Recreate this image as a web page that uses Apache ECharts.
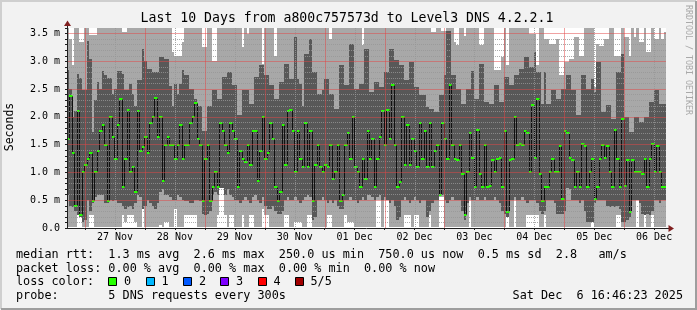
<!DOCTYPE html>
<html><head><meta charset="utf-8">
<script src="https://cdn.jsdelivr.net/npm/echarts@6/dist/echarts.min.js"></script>
<style>html,body{margin:0;padding:0;background:#f2f2f2}#c{width:697px;height:310px}</style>
</head><body><div id="c"></div>
<script>
// ---- time axis (hours relative to 27 Nov 00:00) ----
const START_HOUR = -7.233;   // 26 Nov 16:46
const END_HOUR = 232.767;    // 06 Dec 16:46
const STEP_HOURS = 1;
const dayLabelHours = [12, 36, 60, 84, 108, 132, 156, 180, 204, 228];
const dayLabels = ['27 Nov', '28 Nov', '29 Nov', '30 Nov', '01 Dec', '02 Dec', '03 Dec', '04 Dec', '05 Dec', '06 Dec'];
const midnightHours = [0, 24, 48, 72, 96, 120, 144, 168, 192, 216];
const noonHours = [12, 36, 60, 84, 108, 132, 156, 180, 204, 228];

// ---- rtt values in ms, one per hour (5 pings sorted: min, 2nd, median, 4th, max) ----
const minRtt = [
0.01,0.01,0.01,0.01,0.23,0.20,0.01,0.01,0.01,0.23,
0.23,0.01,0.01,0.01,0.01,0.01,0.01,0.01,0.01,0.01,
0.01,0.01,0.23,0.10,0.23,0.23,0.23,0.10,0.01,0.01,
0.35,0.01,0.01,0.01,0.01,0.01,0.01,0.05,0.01,0.10,
0.10,0.01,0.01,0.35,0.01,0.01,0.01,0.23,0.23,0.23,
0.23,0.23,0.01,0.01,0.01,0.01,0.01,0.01,0.01,0.01,
0.23,0.72,0.72,0.23,0.01,0.23,0.23,0.01,0.01,0.01,
0.23,0.01,0.01,0.23,0.23,0.01,0.01,0.01,0.35,0.23,
0.23,0.01,0.01,0.01,0.01,0.01,0.01,0.23,0.23,0.01,
0.01,0.10,0.10,0.10,0.01,0.01,0.23,0.23,0.01,0.01,
0.01,0.01,0.01,0.01,0.23,0.23,0.01,0.01,0.01,0.01,
0.01,0.23,0.10,0.10,0.10,0.01,0.01,0.01,0.01,0.01,
0.01,0.01,0.01,0.01,0.50,0.50,0.01,0.50,0.50,0.01,
0.01,0.01,0.01,0.01,0.01,0.23,0.23,0.23,0.01,0.23,
0.23,0.01,0.01,0.01,0.01,0.23,0.01,0.01,0.01,0.55,
0.55,0.01,0.01,0.01,0.01,0.01,0.01,0.01,0.01,0.01,
0.01,0.50,0.01,0.01,0.01,0.01,0.01,0.01,0.01,0.01,
0.01,0.01,0.01,0.01,0.01,0.01,0.20,0.01,0.01,0.50,
0.01,0.01,0.01,0.01,0.23,0.23,0.23,0.23,0.23,0.01,
0.01,0.23,0.01,0.01,0.01,0.01,0.01,0.01,0.01,0.01,
0.01,0.01,0.01,0.01,0.01,0.01,0.01,0.01,0.01,0.01,
0.10,0.01,0.01,0.01,0.01,0.01,0.01,0.01,0.01,0.01,
0.23,0.23,0.01,0.01,0.01,0.01,0.01,0.01,0.50,0.01,
0.01,0.23,0.01,0.01,0.23,0.01,0.01,0.01,0.01,0.01];
const lowRtt = [
0.59,0.40,0.38,0.30,0.23,0.20,0.10,0.15,0.50,0.30,
0.45,0.55,0.59,0.60,0.60,0.45,0.45,0.50,0.48,0.50,
0.45,0.45,0.40,0.35,0.38,0.40,0.35,0.45,0.59,0.55,
0.35,0.40,0.50,0.45,0.40,0.35,0.45,0.65,0.70,0.60,
0.60,0.55,0.50,0.50,0.60,0.55,0.50,0.48,0.48,0.45,
0.45,0.50,0.50,0.48,0.25,0.23,0.25,0.30,0.60,0.65,
0.60,0.72,0.72,0.60,0.70,0.60,0.55,0.50,0.50,0.45,
0.50,0.55,0.50,0.45,0.55,0.60,0.50,0.45,0.55,0.40,
0.35,0.35,0.40,0.30,0.25,0.25,0.30,0.50,0.55,0.50,
0.50,0.55,0.50,0.45,0.50,0.55,0.60,0.55,0.15,0.20,
0.50,0.50,0.55,0.50,0.45,0.50,0.45,0.50,0.40,0.35,
0.35,0.50,0.50,0.55,0.50,0.50,0.45,0.50,0.55,0.50,
0.60,0.60,0.55,0.50,0.55,0.60,0.50,0.55,0.50,0.45,
0.50,0.40,0.15,0.20,0.50,0.55,0.50,0.45,0.50,0.55,
0.50,0.45,0.50,0.50,0.20,0.30,0.45,0.50,0.50,0.58,
0.60,0.50,0.45,0.50,0.55,0.50,0.50,0.50,0.30,0.15,
0.45,0.55,0.50,0.50,0.55,0.50,0.50,0.55,0.50,0.50,
0.50,0.55,0.50,0.45,0.30,0.25,0.20,0.50,0.50,0.55,
0.50,0.50,0.55,0.50,0.45,0.50,0.50,0.50,0.45,0.30,
0.25,0.30,0.50,0.50,0.50,0.45,0.25,0.25,0.25,0.30,
0.72,0.70,0.50,0.50,0.50,0.45,0.50,0.30,0.10,0.10,
0.10,0.45,0.50,0.50,0.50,0.50,0.40,0.38,0.40,0.38,
0.40,0.35,0.10,0.10,0.15,0.20,0.50,0.50,0.50,0.45,
0.25,0.23,0.25,0.23,0.30,0.50,0.50,0.45,0.50,0.50];
const medianRtt = [
1.61,2.37,1.35,0.39,2.10,0.24,1.00,1.14,1.25,1.35,
0.49,1.00,1.39,1.74,1.85,1.50,0.49,2.00,1.64,1.25,
1.85,2.33,0.74,1.25,2.13,1.00,1.10,0.64,2.10,1.39,
1.45,1.64,1.35,1.89,2.00,2.34,1.64,2.00,0.85,1.50,
1.64,1.50,1.50,1.25,1.50,1.85,1.25,1.50,1.50,1.89,
2.00,2.25,1.61,1.50,0.49,1.25,1.50,0.49,0.74,1.00,
0.74,1.89,1.74,1.50,1.35,1.89,1.74,1.61,0.74,1.39,
1.25,1.19,1.50,1.14,1.74,1.74,0.85,1.39,2.00,1.25,
1.35,1.89,1.61,0.74,0.49,0.64,1.85,1.14,2.10,2.13,
1.74,1.00,1.74,1.25,1.10,1.89,1.10,1.74,0.49,1.14,
1.50,1.10,1.00,1.14,1.10,1.50,0.89,1.00,1.50,0.49,
0.60,1.50,1.71,1.25,2.00,1.10,1.00,0.74,1.25,0.89,
1.74,1.25,1.61,0.74,1.25,1.64,2.10,1.50,2.13,1.61,
2.58,1.50,0.74,0.83,2.00,1.14,1.85,1.14,1.61,1.39,
1.10,1.89,1.25,1.74,1.10,1.89,1.10,1.39,1.50,0.60,
1.89,1.61,1.25,2.58,1.50,1.25,1.22,1.50,0.97,0.24,
1.00,1.71,1.26,0.73,1.77,0.97,0.74,1.50,0.74,0.76,
1.22,1.00,1.25,1.26,0.73,1.74,0.28,1.22,1.25,2.00,
1.50,1.52,1.50,1.74,1.71,1.00,2.22,1.26,2.32,0.97,
0.49,0.74,0.74,1.00,1.25,1.00,1.00,1.47,0.53,1.75,
1.71,1.26,1.22,0.74,1.00,0.74,1.52,1.47,0.74,1.00,
1.25,0.53,0.73,1.25,1.50,1.26,1.47,1.00,0.74,1.76,
1.25,0.74,1.97,0.76,1.22,0.28,1.22,1.00,1.00,1.00,
0.97,1.25,0.74,1.25,1.51,1.00,1.47,1.00,0.74,0.74];
const highRtt = [
2.84,2.50,2.00,2.10,2.78,2.70,2.48,2.48,3.36,3.05,
1.73,2.30,2.63,2.50,2.82,2.75,2.70,2.70,2.42,2.50,
2.82,2.82,2.78,2.48,2.48,2.60,2.42,2.20,2.66,2.66,
3.23,3.00,2.86,2.86,2.80,2.80,2.80,3.08,3.08,3.05,
3.05,2.56,2.20,2.60,2.42,2.60,2.84,2.75,2.75,2.50,
2.50,2.33,2.20,2.20,1.75,1.75,2.20,2.20,2.48,2.48,
2.33,2.33,2.72,2.72,2.80,2.80,2.57,2.57,2.03,2.03,
2.48,2.48,2.48,2.24,2.24,2.72,2.72,2.93,2.93,2.75,
2.75,2.57,2.57,2.33,2.33,2.63,2.63,2.96,2.96,2.69,
2.69,3.43,2.69,2.60,2.20,3.13,3.13,3.40,2.80,2.80,
2.42,2.42,2.48,2.69,2.69,2.42,2.42,2.15,2.15,2.93,
2.93,2.57,2.57,3.32,3.32,2.50,2.50,2.60,2.60,3.23,
3.23,2.45,2.45,2.63,2.63,2.54,2.54,2.80,2.80,3.23,
3.23,3.02,3.02,2.93,2.93,2.66,2.66,2.99,2.99,2.54,
2.54,2.39,2.39,2.39,2.18,2.15,2.15,2.09,2.09,2.39,
2.39,2.75,3.55,3.55,2.75,2.75,2.51,2.51,2.24,2.24,
2.51,2.51,2.82,2.33,2.33,2.96,2.96,2.27,2.27,2.24,
2.24,2.57,2.57,2.27,2.27,2.72,2.72,2.57,2.57,2.75,
2.75,2.87,2.87,3.08,3.08,2.90,2.90,3.17,2.80,2.80,
2.24,2.80,2.24,2.24,2.48,2.48,2.33,2.33,2.51,2.51,
2.75,2.75,2.48,2.48,2.03,2.03,2.75,2.75,2.51,2.51,
2.69,2.45,2.99,2.99,2.09,2.09,2.21,2.21,1.97,1.97,
2.80,2.80,3.14,2.00,2.00,1.73,1.73,2.00,2.00,1.91,
1.91,2.00,2.00,2.27,2.27,2.48,2.48,2.24,2.24,2.24];
const maxRtt = [
3.80,3.40,2.93,3.80,3.80,3.35,3.35,3.80,3.80,3.47,
3.47,3.47,3.80,3.80,3.80,3.80,3.80,3.80,3.80,3.80,
3.80,3.80,3.52,3.52,3.80,3.80,3.80,3.80,3.80,3.80,
3.80,3.80,3.80,3.80,3.80,3.80,3.80,3.80,3.80,3.80,
3.80,3.80,3.17,3.10,3.10,3.10,3.35,3.80,3.80,3.80,
3.80,3.80,3.80,3.80,3.25,3.25,3.80,3.80,3.00,3.00,
3.80,3.80,3.80,3.80,3.80,3.80,3.80,3.80,3.80,3.80,
3.25,3.80,3.50,3.80,3.80,3.80,3.80,3.80,2.95,3.80,
3.80,3.80,3.80,3.10,3.80,3.80,3.80,3.80,3.80,3.80,
3.80,3.80,3.80,3.80,3.80,3.80,3.80,3.80,3.80,3.80,
3.80,3.80,3.80,3.80,3.80,3.40,3.80,3.80,3.80,3.80,
3.80,3.80,3.80,3.80,3.80,3.80,3.80,3.80,3.30,3.80,
3.80,3.80,3.80,3.80,3.80,3.80,3.80,3.80,3.80,3.80,
3.80,3.80,3.80,3.80,3.80,3.80,3.80,3.80,3.80,3.80,
3.80,3.80,3.80,3.80,3.80,3.80,3.52,3.52,3.80,3.80,
3.55,3.55,3.80,3.80,3.80,3.35,3.30,3.80,3.80,3.45,
3.80,3.80,3.80,3.80,3.80,3.30,3.30,3.80,3.80,3.80,
3.80,2.84,2.84,2.84,3.08,3.80,2.93,3.80,3.80,3.80,
3.80,3.80,3.80,3.80,3.80,3.50,3.50,3.50,2.93,3.80,
3.80,3.40,3.40,3.32,3.32,3.32,3.40,2.75,2.75,2.99,
2.99,3.05,3.05,3.43,3.43,3.10,3.10,3.80,3.80,3.80,
3.80,2.54,3.32,3.28,3.28,3.40,3.40,3.80,3.80,3.10,
3.10,3.10,3.80,3.44,3.44,3.10,3.80,3.43,3.80,3.35,
3.35,3.80,3.17,3.17,3.80,3.40,3.40,3.80,3.41,3.52];

const yTickValues = [0, 0.5, 1, 1.5, 2, 2.5, 3, 3.5];
const Y_MAX = 3.6;

// ---- texts ----
const titleText = 'Last 10 Days from a800c757573d to Level3 DNS 4.2.2.1';
const yAxisName = 'Seconds';
const watermark = 'RRDTOOL / TOBI OETIKER';
const legendLines = [
  'median rtt:  1.3 ms avg  2.6 ms max  250.0 us min  750.0 us now  0.5 ms sd  2.8   am/s',
  'packet loss: 0.00 % avg  0.00 % max  0.00 % min  0.00 % now',
  'loss color:',
  'probe:       5 DNS requests every 300s'
];
const dateText = 'Sat Dec  6 16:46:23 2025';
const lossLabels = ['0', '1', '2', '3', '4', '5/5'];
const lossColors = ['#26ff00', '#00b8ff', '#0059ff', '#7e00ff', '#ff0000', '#a10000'];

// ---- styling ----
const MONO = '"DejaVu Sans Mono", monospace';
const LIGHT = '#a8a8a8';
const DARK = '#585858';
const MGRID = 'rgba(225,70,70,0.5)';
const GRID = 'rgba(150,150,150,0.8)';
const AXIS = '#1f1f1f';
const ARROW = '#801f1f';

const sampleHours = medianRtt.map((_, i) => START_HOUR + (i + 0.5) * STEP_HOURS);

const chart = echarts.init(document.getElementById('c'), null, { renderer: 'canvas', width: 697, height: 310 });

function colBounds(api, h) {
  const xl = Math.round(api.coord([h - STEP_HOURS / 2, 0])[0]);
  const xr = Math.round(api.coord([h + STEP_HOURS / 2, 0])[0]);
  return [xl, xr];
}

const graphics = [];
// frame
graphics.push({ type: 'polyline', silent: true, shape: { points: [[1, 309], [1, 1], [696, 1]] }, style: { stroke: '#cfcfcf', lineWidth: 2, fill: null } });
graphics.push({ type: 'polyline', silent: true, shape: { points: [[1, 309], [696, 309], [696, 1]] }, style: { stroke: '#9e9e9e', lineWidth: 2, fill: null } });
// axis extensions + arrows
graphics.push({ type: 'line', silent: true, z: 20, shape: { x1: 666, y1: 228.5, x2: 670, y2: 228.5 }, style: { stroke: AXIS, lineWidth: 1 } });
graphics.push({ type: 'polygon', silent: true, z: 20, shape: { points: [[668.5, 225], [674, 228.5], [668.5, 232]] }, style: { fill: ARROW } });
graphics.push({ type: 'line', silent: true, z: 20, shape: { x1: 67.5, y1: 28, x2: 67.5, y2: 24 }, style: { stroke: AXIS, lineWidth: 1 } });
graphics.push({ type: 'polygon', silent: true, z: 20, shape: { points: [[64, 26], [67.5, 20.5], [71, 26]] }, style: { fill: ARROW } });
// title
graphics.push({ type: 'text', silent: true, x: 347, y: 18.5, style: { text: titleText, font: '13.2px ' + MONO, fill: '#000', align: 'center', verticalAlign: 'middle', textAlign: 'center', textVerticalAlign: 'middle' } });
// y name
graphics.push({ type: 'text', silent: true, x: 10.5, y: 127, rotation: Math.PI / 2, style: { text: yAxisName, font: '11.5px ' + MONO, fill: '#000', align: 'center', verticalAlign: 'middle', textAlign: 'center', textVerticalAlign: 'middle' } });
// watermark
graphics.push({ type: 'text', silent: true, x: 688, y: 5, rotation: -Math.PI / 2, style: { text: watermark, font: '8.3px ' + MONO, fill: '#a9a9a9', align: 'left', verticalAlign: 'middle', textAlign: 'left', textVerticalAlign: 'middle' } });
// legend lines
const legendY = [254.5, 268.5, 282, 296];
legendLines.forEach((t, k) => {
  graphics.push({ type: 'text', silent: true, x: 16, y: legendY[k], style: { text: t, font: '11.8px ' + MONO, fill: '#000', align: 'left', verticalAlign: 'middle', textAlign: 'left', textVerticalAlign: 'middle' } });
});
graphics.push({ type: 'text', silent: true, x: 683, y: legendY[3], style: { text: dateText, font: '11.8px ' + MONO, fill: '#000', align: 'right', verticalAlign: 'middle', textAlign: 'right', textVerticalAlign: 'middle' } });
// loss colour boxes
const boxX = [108, 145.5, 183, 220, 257.5, 294.5];
lossLabels.forEach((lab, k) => {
  graphics.push({ type: 'rect', silent: true, shape: { x: Math.round(boxX[k]) + 0.5, y: 277.5, width: 8, height: 8 }, style: { fill: lossColors[k], stroke: '#000', lineWidth: 1 } });
  graphics.push({ type: 'text', silent: true, x: boxX[k] + 16, y: legendY[2], style: { text: lab, font: '11.8px ' + MONO, fill: '#000', align: 'left', verticalAlign: 'middle', textAlign: 'left', textVerticalAlign: 'middle' } });
});

const option = {
  animation: false,
  backgroundColor: '#f2f2f2',
  grid: { left: 67, right: 31, top: 28, bottom: 82, show: true, backgroundColor: '#ffffff', borderWidth: 0 },
  xAxis: {
    type: 'value', min: START_HOUR, max: END_HOUR, z: 6,
    axisLine: { show: true, onZero: false, lineStyle: { color: AXIS, width: 1 } },
    axisTick: { show: true, customValues: midnightHours.concat(noonHours).sort((a, b) => a - b), length: 2, lineStyle: { color: AXIS } },
    axisLabel: {
      customValues: dayLabelHours,
      formatter: v => dayLabels[dayLabelHours.indexOf(Math.round(v))] || '',
      fontFamily: MONO, fontSize: 10, color: '#000', margin: 4
    },
    splitLine: { show: false }
  },
  yAxis: {
    type: 'value', min: 0, max: Y_MAX, interval: 0.5, z: 6,
    axisLine: { show: true, onZero: false, lineStyle: { color: AXIS, width: 1 } },
    axisTick: { show: true, length: 2, lineStyle: { color: AXIS } },
    minorTick: { show: true, splitNumber: 5, length: 2, lineStyle: { color: AXIS } },
    axisLabel: {
      showMaxLabel: false,
      formatter: v => (yTickValues.indexOf(v) < 0 ? '' : (v === 0 ? '0.0' : v.toFixed(1) + ' m')),
      fontFamily: MONO, fontSize: 10, color: '#000', margin: 7
    },
    splitLine: { show: true, showMinLine: false, showMaxLine: false, lineStyle: { color: MGRID, type: 'solid', width: 1 } },
    minorSplitLine: { show: true, lineStyle: { color: GRID, type: [1, 1], width: 1 } }
  },
  graphic: graphics,
  series: [
    {
      name: 'smoke', type: 'custom', z: 2, clip: true, silent: true,
      data: sampleHours.map((h, i) => [h, minRtt[i], lowRtt[i], highRtt[i], maxRtt[i]]),
      encode: { x: 0, y: [1, 2, 3, 4] },
      renderItem: (params, api) => {
        const h = api.value(0);
        const [xl, xr] = colBounds(api, h);
        const yy = v => Math.round(api.coord([h, v])[1]);
        const y1 = yy(api.value(1)), y2 = yy(api.value(2)), y4 = yy(api.value(3)), y5 = yy(api.value(4));
        return {
          type: 'group', children: [
            { type: 'rect', shape: { x: xl, y: y2, width: xr - xl, height: y1 - y2 }, style: { fill: LIGHT } },
            { type: 'rect', shape: { x: xl, y: y4, width: xr - xl, height: y2 - y4 }, style: { fill: DARK } },
            { type: 'rect', shape: { x: xl, y: y5, width: xr - xl, height: y4 - y5 }, style: { fill: LIGHT } }
          ]
        };
      }
    },
    {
      name: 'median steps', type: 'custom', z: 3, clip: true, silent: true,
      data: sampleHours.map((h, i) => [h, medianRtt[i], i > 0 ? medianRtt[i - 1] : medianRtt[i]]),
      encode: { x: 0, y: [1, 2] },
      renderItem: (params, api) => {
        const h = api.value(0);
        const [xl] = colBounds(api, h);
        const yc = Math.round(api.coord([h, api.value(1)])[1]);
        const yp = Math.round(api.coord([h, api.value(2)])[1]);
        return { type: 'line', shape: { x1: xl + 0.5, y1: yp, x2: xl + 0.5, y2: yc }, style: { stroke: '#111111', lineWidth: 1 } };
      }
    },
    {
      name: 'median', type: 'custom', z: 4, clip: true, silent: true,
      data: sampleHours.map((h, i) => [h, medianRtt[i]]),
      encode: { x: 0, y: 1 },
      renderItem: (params, api) => {
        const h = api.value(0);
        const [xl, xr] = colBounds(api, h);
        const y = Math.round(api.coord([h, api.value(1)])[1]);
        return { type: 'rect', shape: { x: xl, y: y - 1, width: xr - xl + 0.5, height: 2 }, style: { fill: lossColors[0] } };
      }
    }
  ]
};
chart.setOption(option);

// vertical time grid (midnight = major, noon = minor), positioned through the x axis scale
const gridEls = [];
const yTopPx = chart.convertToPixel({ yAxisIndex: 0 }, Y_MAX);
const yBotPx = chart.convertToPixel({ yAxisIndex: 0 }, 0);
midnightHours.forEach(h => {
  const x = Math.round(chart.convertToPixel({ xAxisIndex: 0 }, h)) + 0.5;
  gridEls.push({ type: 'line', silent: true, z: 10, shape: { x1: x, y1: yTopPx, x2: x, y2: yBotPx }, style: { stroke: MGRID, lineWidth: 1 } });
});
noonHours.forEach(h => {
  const x = Math.round(chart.convertToPixel({ xAxisIndex: 0 }, h)) + 0.5;
  gridEls.push({ type: 'line', silent: true, z: 10, shape: { x1: x, y1: yTopPx, x2: x, y2: yBotPx }, style: { stroke: GRID, lineWidth: 1, lineDash: [1, 1] } });
});
chart.setOption({ graphic: graphics.concat(gridEls) });
</script>
</body></html>
